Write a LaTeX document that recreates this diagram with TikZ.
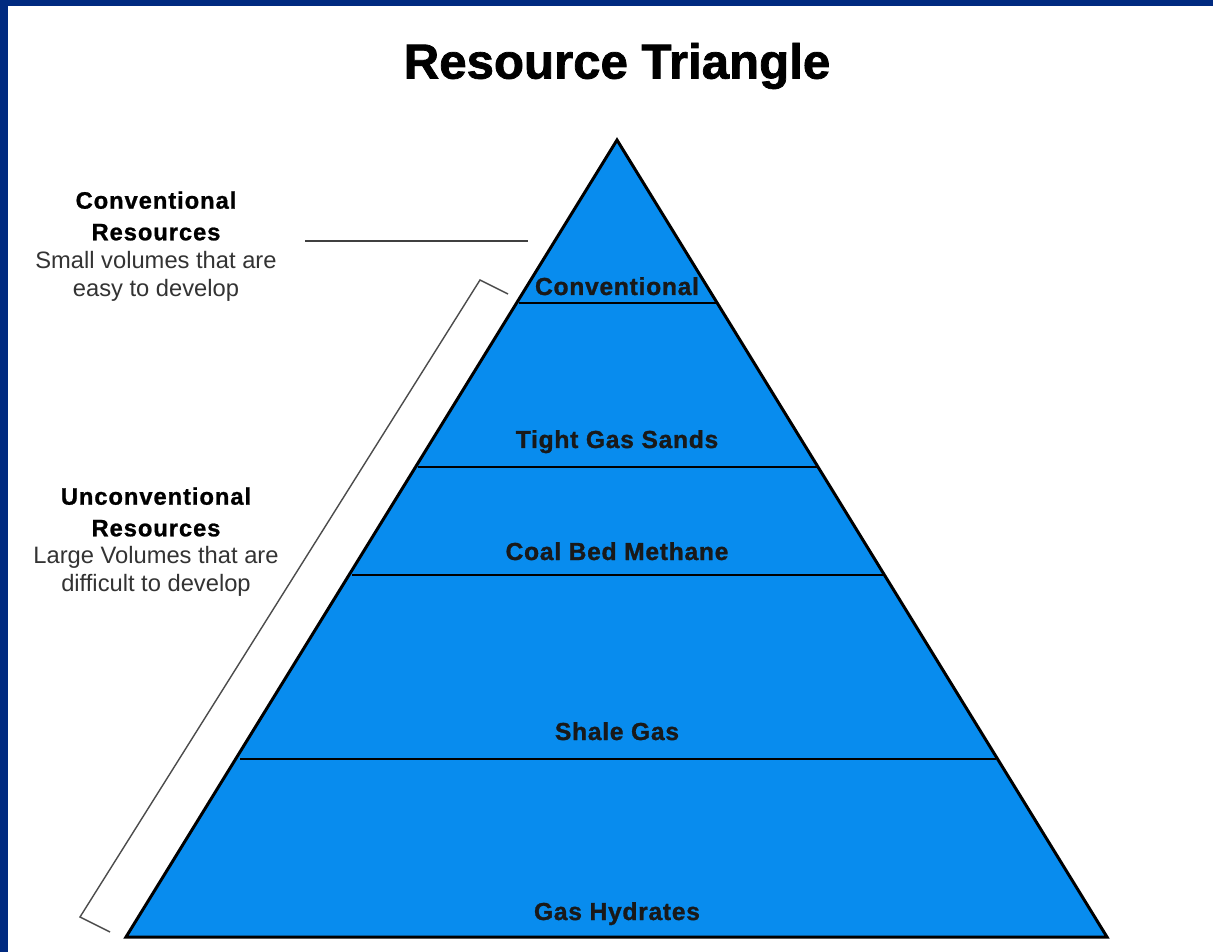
\documentclass[tikz,border=0pt]{standalone}
\usepackage{fontspec}
\setmainfont{Liberation Sans}
\definecolor{layerblue}{RGB}{8,140,238}
\definecolor{frameblue}{RGB}{0,42,128}
\tikzset{
  layername/.style={anchor=base, text=black!90,
    font=\bfseries\fontsize{14}{16}\selectfont\addfontfeatures{LetterSpace=3,FakeBold=1.2}},
  sidehead/.style={align=center,
    font=\bfseries\fontsize{13.5}{18}\selectfont\addfontfeatures{LetterSpace=4,FakeBold=1}},
  sidetext/.style={align=center, text=black!80,
    font=\fontsize{13.5}{16}\selectfont},
}

\begin{document}
\begin{tikzpicture}[x=0.02cm,y=-0.02cm]
\useasboundingbox (0,0) rectangle (1213,952);
\fill[white] (0,0) rectangle (1213,952);
\fill[frameblue] (0,0) rectangle (1213,6);
\fill[frameblue] (0,0) rectangle (8,952);

\node (title) at (617,66) {\bfseries\fontsize{28}{32}\selectfont\addfontfeatures{FakeBold=1.5}Resource Triangle};

% the triangle and its layers
\fill[layerblue] (617,140) -- (1107,937) -- (126,937) -- cycle;
\draw[line width=1.2pt] (519,303) -- (717,303);
\draw[line width=1.2pt] (418,467) -- (819,467);
\draw[line width=1.2pt] (352,575) -- (884,575);
\draw[line width=1.2pt] (240,759) -- (996,759);
\draw[line width=1.7pt,line join=miter] (617,140) -- (1107,937) -- (126,937) -- cycle;

\node[layername] (conv) at (617,295) {Conventional};
\node[layername] (tight) at (617,448) {Tight Gas Sands};
\node[layername] (coal) at (617,560) {Coal Bed Methane};
\node[layername] (shale) at (617,740) {Shale Gas};
\node[layername] (hydr) at (617,920) {Gas Hydrates};

% notes on the left
\node[sidehead] (convhead) at (156,216) {Conventional\\Resources};
\node[sidetext] (convtext) at (156,276) {Small volumes that are\\easy to develop};
\node[sidehead] (unconvhead) at (156,512) {Unconventional\\Resources};
\node[sidetext] (unconvtext) at (156,571) {Large Volumes that are\\difficult to develop};

\coordinate (convtail) at (305,241);
\coordinate (convtip) at (528,241);
\draw[line width=1pt,black!75] (convtail) -- (convtip);

% bracket along the lower layers
\draw[line width=0.8pt,black!70] (508,294) -- (480,280) -- (80,917) -- (110,932);
\end{tikzpicture}
\end{document}
